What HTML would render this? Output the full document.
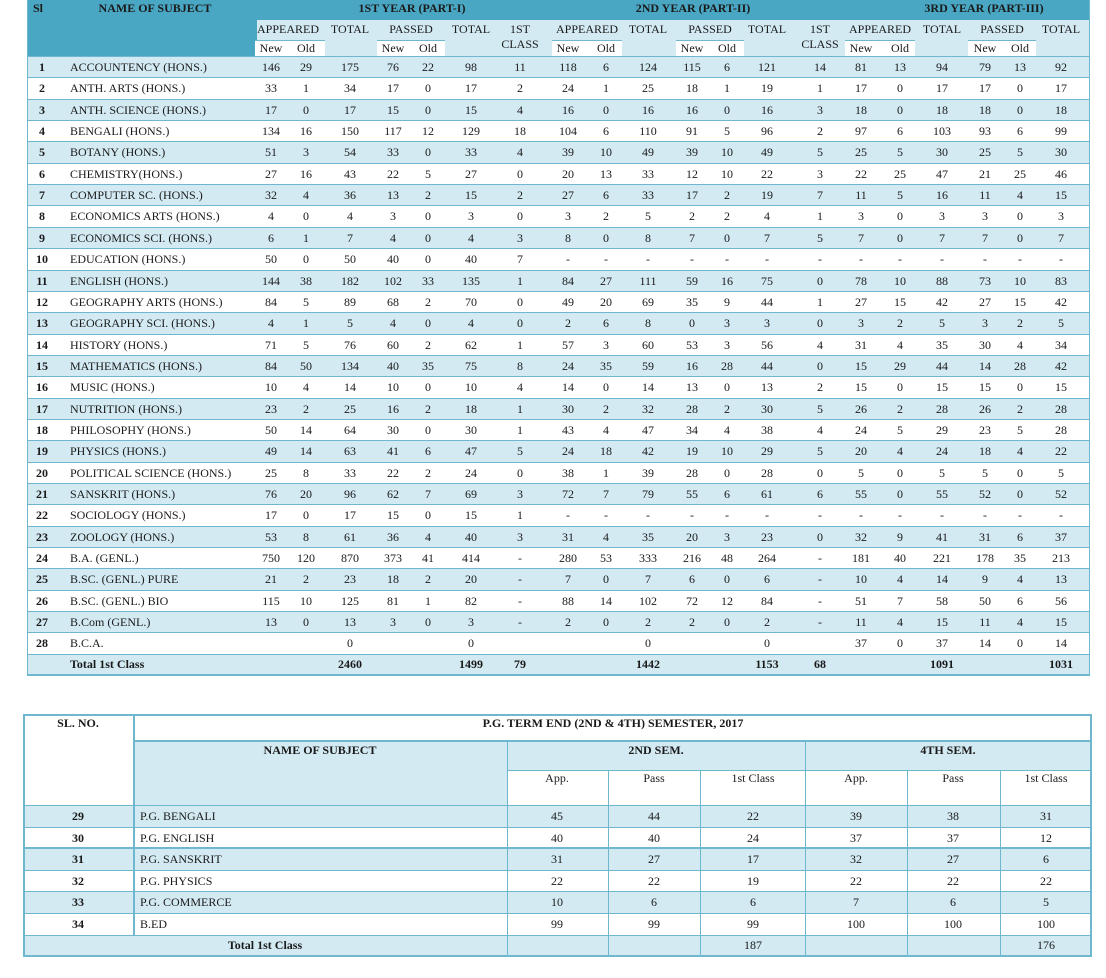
<!DOCTYPE html>
<html><head><meta charset="utf-8">
<style>
body{margin:0;width:1106px;height:978px;background:#fff;position:relative;font-family:"Liberation Serif",serif;color:#1a1a1a;overflow:hidden}
.a{position:absolute;box-sizing:border-box}
.t{position:absolute;font-size:12px;white-space:nowrap;line-height:14px}
.c{transform:translateX(-50%)}
.b{font-weight:bold}
</style></head><body>
<div id="root"></div>
<script>
const subjects=["ACCOUNTENCY (HONS.)","ANTH. ARTS (HONS.)","ANTH. SCIENCE (HONS.)","BENGALI (HONS.)","BOTANY (HONS.)","CHEMISTRY(HONS.)","COMPUTER SC. (HONS.)","ECONOMICS ARTS (HONS.)","ECONOMICS SCI. (HONS.)","EDUCATION (HONS.)","ENGLISH (HONS.)","GEOGRAPHY ARTS (HONS.)","GEOGRAPHY SCI. (HONS.)","HISTORY (HONS.)","MATHEMATICS (HONS.)","MUSIC (HONS.)","NUTRITION (HONS.)","PHILOSOPHY (HONS.)","PHYSICS (HONS.)","POLITICAL SCIENCE (HONS.)","SANSKRIT (HONS.)","SOCIOLOGY (HONS.)","ZOOLOGY (HONS.)","B.A. (GENL.)","B.SC. (GENL.) PURE","B.SC. (GENL.) BIO","B.Com (GENL.)","B.C.A."];
const D="-",E="";
const year1=[[146,29,175,76,22,98,11],[33,1,34,17,0,17,2],[17,0,17,15,0,15,4],[134,16,150,117,12,129,18],[51,3,54,33,0,33,4],[27,16,43,22,5,27,0],[32,4,36,13,2,15,2],[4,0,4,3,0,3,0],[6,1,7,4,0,4,3],[50,0,50,40,0,40,7],[144,38,182,102,33,135,1],[84,5,89,68,2,70,0],[4,1,5,4,0,4,0],[71,5,76,60,2,62,1],[84,50,134,40,35,75,8],[10,4,14,10,0,10,4],[23,2,25,16,2,18,1],[50,14,64,30,0,30,1],[49,14,63,41,6,47,5],[25,8,33,22,2,24,0],[76,20,96,62,7,69,3],[17,0,17,15,0,15,1],[53,8,61,36,4,40,3],[750,120,870,373,41,414,D],[21,2,23,18,2,20,D],[115,10,125,81,1,82,D],[13,0,13,3,0,3,D],[E,E,0,E,E,0,E]];
const year2=[[118,6,124,115,6,121,14],[24,1,25,18,1,19,1],[16,0,16,16,0,16,3],[104,6,110,91,5,96,2],[39,10,49,39,10,49,5],[20,13,33,12,10,22,3],[27,6,33,17,2,19,7],[3,2,5,2,2,4,1],[8,0,8,7,0,7,5],[D,D,D,D,D,D,D],[84,27,111,59,16,75,0],[49,20,69,35,9,44,1],[2,6,8,0,3,3,0],[57,3,60,53,3,56,4],[24,35,59,16,28,44,0],[14,0,14,13,0,13,2],[30,2,32,28,2,30,5],[43,4,47,34,4,38,4],[24,18,42,19,10,29,5],[38,1,39,28,0,28,0],[72,7,79,55,6,61,6],[D,D,D,D,D,D,D],[31,4,35,20,3,23,0],[280,53,333,216,48,264,D],[7,0,7,6,0,6,D],[88,14,102,72,12,84,D],[2,0,2,2,0,2,D],[E,E,0,E,E,0,E]];
const year3=[[81,13,94,79,13,92],[17,0,17,17,0,17],[18,0,18,18,0,18],[97,6,103,93,6,99],[25,5,30,25,5,30],[22,25,47,21,25,46],[11,5,16,11,4,15],[3,0,3,3,0,3],[7,0,7,7,0,7],[D,D,D,D,D,D],[78,10,88,73,10,83],[27,15,42,27,15,42],[3,2,5,3,2,5],[31,4,35,30,4,34],[15,29,44,14,28,42],[15,0,15,15,0,15],[26,2,28,26,2,28],[24,5,29,23,5,28],[20,4,24,18,4,22],[5,0,5,5,0,5],[55,0,55,52,0,52],[D,D,D,D,D,D],[32,9,41,31,6,37],[181,40,221,178,35,213],[10,4,14,9,4,13],[51,7,58,50,6,56],[11,4,15,11,4,15],[37,0,37,14,0,14]];
const totals1=[E,E,2460,E,E,1499,79,E,E,1442,E,E,1153,68,E,E,1091,E,E,1031];
const pgSubjects=["P.G. BENGALI","P.G. ENGLISH","P.G. SANSKRIT","P.G. PHYSICS","P.G. COMMERCE","B.ED"];
const pgSl=[29,30,31,32,33,34];
const sem2=[[45,44,22],[40,40,24],[31,27,17],[22,22,19],[10,6,6],[99,99,99]];
const sem4=[[39,38,31],[37,37,12],[32,27,6],[22,22,22],[7,6,5],[100,100,100]];
const pgTotals=[E,E,187,E,E,176];

const root=document.getElementById('root');
const BL="#d3eaf3",DK="#4aa7c3",LN="#6fb7cf";
function box(x,y,w,h,bg,name){const d=document.createElement('div');d.className='a';d.style.cssText=`left:${x}px;top:${y}px;width:${w}px;height:${h}px;background:${bg}`;


root.appendChild(d);return d;}
function txt(x,y,s,cls,name){const d=document.createElement('div');d.className='t '+(cls||'');d.style.left=x+'px';d.style.top=y+'px';d.textContent=s;


root.appendChild(d);return d;}

// Table 1
const L=27,R=1090,W=R-L;
const cols=[271,306,350,393,428,471,520,568,606,648,692,727,767,820,861,900,942,985,1020,1061];
box(L,0,W,20,DK,'header-band');
box(L,20,W,36,BL,'subheader-band');
box(L,20,230,36,DK,'sl-name-header');
const newOld=[[255,70],[377,68],[552,70],[676,68],[845,70],[968,68]];
newOld.forEach(n=>{const b=box(n[0],40,n[1],16,'#fff','new-old-cell');b.style.borderTop='1px solid '+LN;});
txt(33,1,'Sl','b','sl-header');
txt(155,1,'NAME OF SUBJECT','b c','name-header');
txt(412,1,'1ST YEAR (PART-I)','b c','year1-title');
txt(693,1,'2ND YEAR (PART-II)','b c','year2-title');
txt(984,1,'3RD YEAR (PART-III)','b c','year3-title');
const hdr=[['APPEARED',288],['TOTAL',350],['PASSED',411],['TOTAL',471],['1ST',520],
['APPEARED',587],['TOTAL',648],['PASSED',710],['TOTAL',767],['1ST',820],
['APPEARED',880],['TOTAL',942],['PASSED',1002],['TOTAL',1061]];
hdr.forEach(h=>txt(h[1],22,h[0],'c','column-header'));
txt(520,37,'CLASS','c','column-header');txt(820,37,'CLASS','c','column-header');
[[271,306],[393,428],[568,606],[692,727],[861,900],[985,1020]].forEach(p=>{txt(p[0],41,'New','c','new-header');txt(p[1],41,'Old','c','old-header');});
const top0=56,P=21.35;
for(let i=0;i<=28;i++){
 const y=top0+i*P;
 const b=box(L,y,W,P,(i%2==0)?BL:'#fff',i<28?'data-row':'total-row');
 b.style.borderTop='1.5px solid '+LN;
 if(i<28){
  txt(42,y+4,String(i+1),'b c','row-sl');
  txt(70,y+4,subjects[i],'','subject-name');
  const vals=year1[i].concat(year2[i],year3[i]);
  vals.forEach((v,k)=>txt(cols[k],y+4,String(v),'c','cell-value'));
 } else {
  txt(70,y+3,'Total 1st Class','b','total-label');
  totals1.forEach((v,k)=>{if(v!==E)txt(cols[k],y+3,String(v),'b c','total-value');});
 }
}
const fr=box(L,0,W,top0+29*P+1,'transparent','table1-frame');
fr.style.borderLeft='1.5px solid '+LN;fr.style.borderRight='1.5px solid '+LN;fr.style.borderBottom='2px solid '+LN;

// Table 2
const T=714,L2=23,R2=1092;
const vx=[L2,134,507,608,700,805,907,1000,R2];
box(134,T,R2-134,27,'#fff','pg-title-row');
box(134,T+27,R2-134,29,BL,'pg-subheader-row');
box(134,T+56,373,35,BL,'pg-name-header-cell');
box(507,T+56,R2-507,35,'#fff','pg-col-header-row');
const rT=805,P2=21.6;
for(let i=0;i<=6;i++){
 const y=rT+i*P2;
 const b=box(L2,y,R2-L2,P2,(i%2==0)?BL:'#fff',i<6?'pg-row':'pg-total-row');
 b.style.borderTop='1px solid '+LN;
}
box(L2,T,111,91,'#fff','sl-no-header');
const f2=box(L2,T,R2-L2,rT+7*P2-T+1,'transparent','table2-frame');
f2.style.border='2px solid '+LN;
function vl(x,y1,y2,w){box(x,y1,w||1,y2-y1,LN,'grid-line');}
vl(133,T,rT+6*P2,2);
for(let k=2;k<8;k++){ if(k==5||k==2) vl(vx[k],T+27,rT+7*P2); else vl(vx[k],T+56,rT+7*P2);}
box(134,T+26,R2-134,2,LN,'grid-line');
box(507,T+56,R2-507,1,LN,'grid-line');
box(L2,rT+2*P2-1,R2-L2,2,LN,'grid-line');
txt(78,T+2,'SL. NO.','b c','sl-no-title');
txt(613,T+2,'P.G. TERM END (2ND & 4TH) SEMESTER, 2017','b c','pg-title');
txt(320,T+29,'NAME OF SUBJECT','b c','pg-name-header');
txt(656,T+29,'2ND SEM.','b c','sem2-header');
txt(948,T+29,'4TH SEM.','b c','sem4-header');
const c2=[557,654,753,856,953,1046];
['App.','Pass','1st Class','App.','Pass','1st Class'].forEach((s,k)=>txt(c2[k],T+57,s,'c','pg-col-header'));
for(let i=0;i<6;i++){
 const y=rT+i*P2;
 txt(78,y+4,String(pgSl[i]),'b c','pg-sl');
 txt(140,y+4,pgSubjects[i],'','pg-subject');
 sem2[i].concat(sem4[i]).forEach((v,k)=>txt(c2[k],y+4,String(v),'c','pg-value'));
}
txt(265,rT+6*P2+3,'Total 1st Class','b c','pg-total-label');
pgTotals.forEach((v,k)=>{if(v!==E)txt(c2[k],rT+6*P2+3,String(v),'c','pg-total-value');});
</script>
</body></html>
